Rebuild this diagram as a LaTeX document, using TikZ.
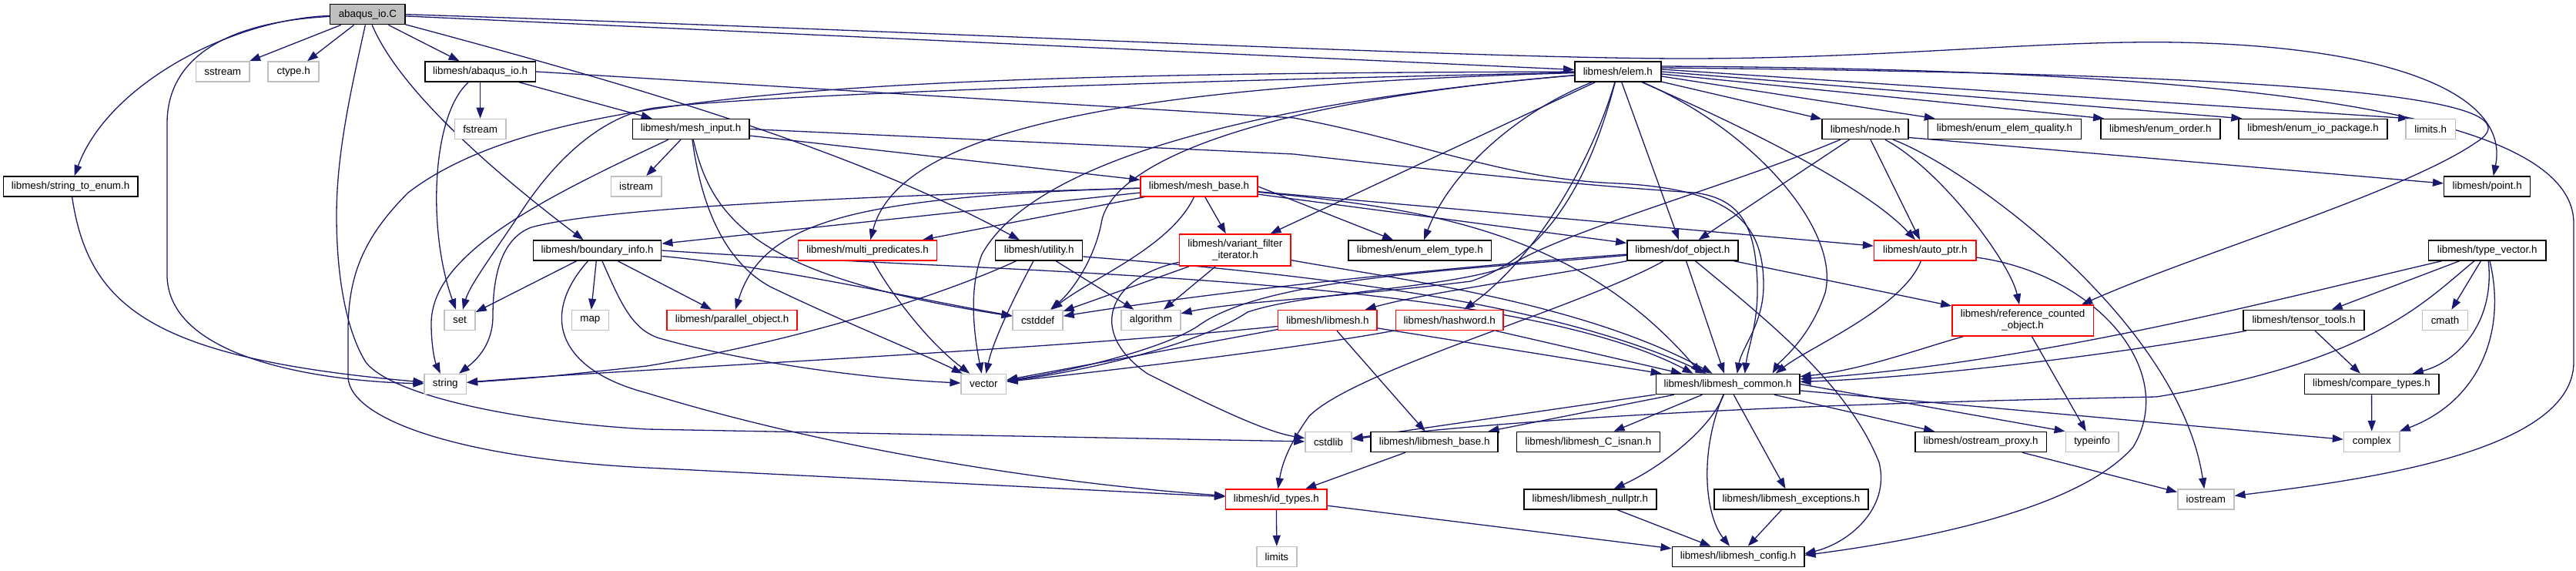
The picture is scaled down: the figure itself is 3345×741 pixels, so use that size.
\documentclass[tikz,border=0pt]{standalone}
\usepackage{fontspec}
\setmainfont{Liberation Sans}
\usetikzlibrary{arrows.meta}
\definecolor{edgec}{HTML}{191970}
\definecolor{gbox}{HTML}{BFBFBF}
\definecolor{rbox}{HTML}{FF0000}
\definecolor{cfill}{HTML}{BFBFBF}
\pgfdeclarelayer{bg}
\pgfsetlayers{bg,main}
\begin{document}
\begin{tikzpicture}[x=1pt,y=-1pt,
  bx/.style={draw, line width=1.5pt, fill=white, inner sep=0pt, minimum height=26pt, font=\fontsize{13.4}{15}\selectfont, text=black},
  nb/.style={bx, draw=black},
  nr/.style={bx, draw=rbox},
  ng/.style={bx, draw=gbox},
  edg/.style={draw=edgec, line width=1.3pt, -{Triangle[length=14pt,width=10pt]}},
]
\useasboundingbox (0,0) rectangle (3345,741);
% nodes
\node[nb, fill=cfill, minimum width=97.5pt] (C) at (477.4,18.7) {abaqus\_io.C};
\node[ng, minimum width=69.6pt] (sstream) at (289.3,93) {sstream};
\node[ng, minimum width=66pt] (ctype) at (381.2,93) {ctype.h};
\node[nb, minimum width=143.6pt] (abaqush) at (623.6,93) {libmesh/abaqus\_io.h};
\node[nb, minimum width=112pt] (elem) at (2100.8,93) {libmesh/elem.h};
\node[ng, minimum width=66.4pt] (fstream) at (623.6,167.5) {fstream};
\node[nb, minimum width=151.6pt] (meshinput) at (897.1,167.5) {libmesh/mesh\_input.h};
\node[nb, minimum width=112pt] (nodeh) at (2422.2,167.5) {libmesh/node.h};
\node[nb, minimum width=199pt] (equality) at (2603,167.5) {libmesh/enum\_elem\_quality.h};
\node[nb, minimum width=155pt] (eorder) at (2805.3,167.5) {libmesh/enum\_order.h};
\node[nb, minimum width=193pt] (eio) at (3003.6,167.5) {libmesh/enum\_io\_package.h};
\node[ng, minimum width=64.5pt] (limitsh) at (3156.2,167.5) {limits.h};
\node[nb, minimum width=174.6pt] (ste) at (91.6,242) {libmesh/string\_to\_enum.h};
\node[ng, minimum width=65.4pt] (istream) at (826.1,242) {istream};
\node[nr, minimum width=151.7pt] (meshbase) at (1557,242) {libmesh/mesh\_base.h};
\node[nb, minimum width=112pt] (pointh) at (3229.7,242) {libmesh/point.h};
\node[nb, minimum width=166pt] (binfo) at (775.7,325) {libmesh/boundary\_info.h};
\node[nr, minimum width=180pt] (multipred) at (1126.6,325) {libmesh/multi\_predicates.h};
\node[nb, minimum width=113pt] (utility) at (1349.2,325) {libmesh/utility.h};
\node[nr, minimum width=144.6pt, minimum height=41pt, align=center] (vfi) at (1603.9,324.5) {libmesh/variant\_filter\\\_iterator.h};
\node[nb, minimum width=185.4pt] (eetype) at (1843.9,325) {libmesh/enum\_elem\_type.h};
\node[nb, minimum width=144.2pt] (dof) at (2184.9,325) {libmesh/dof\_object.h};
\node[nr, minimum width=132.3pt] (autoptr) at (2499.8,325) {libmesh/auto\_ptr.h};
\node[nb, minimum width=152.3pt] (typevec) at (3229.7,325) {libmesh/type\_vector.h};
\node[ng, minimum width=40pt] (seth) at (597,415.5) {set};
\node[ng, minimum width=47.7pt] (maph) at (766.4,415.5) {map};
\node[nr, minimum width=168.8pt] (parobj) at (950.6,415.5) {libmesh/parallel\_object.h};
\node[ng, minimum width=64.8pt] (cstddef) at (1347.6,415.5) {cstddef};
\node[ng, minimum width=76.7pt] (algorithm) at (1494.4,415.5) {algorithm};
\node[nr, minimum width=128.6pt] (libmesh) at (1723.9,415.5) {libmesh/libmesh.h};
\node[nr, minimum width=139.8pt] (hashword) at (1882.2,415.5) {libmesh/hashword.h};
\node[nr, minimum width=183.5pt, minimum height=40pt, align=center] (refcount) at (2626.6,416) {libmesh/reference\_counted\\\_object.h};
\node[nb, minimum width=157pt] (tensor) at (2991.5,415.5) {libmesh/tensor\_tools.h};
\node[ng, minimum width=58.7pt] (cmath) at (3175,415.5) {cmath};
\node[ng, minimum width=54.2pt] (strg) at (578.3,498.5) {string};
\node[ng, minimum width=58.4pt] (vect) at (1277.4,498.5) {vector};
\node[nb, minimum width=186.4pt] (common) at (2243.6,498.5) {libmesh/libmesh\_common.h};
\node[nb, minimum width=174.5pt] (compare) at (3079.5,498.5) {libmesh/compare\_types.h};
\node[ng, minimum width=60pt] (cstdlib) at (1725,573.5) {cstdlib};
\node[nb, minimum width=165pt] (baseh) at (1862.7,573.5) {libmesh/libmesh\_base.h};
\node[nb, minimum width=185.9pt] (isnan) at (2062.3,573.5) {libmesh/libmesh\_C\_isnan.h};
\node[nb, minimum width=170.7pt] (ostream) at (2572.2,573.5) {libmesh/ostream\_proxy.h};
\node[ng, minimum width=68.8pt] (typeinfo) at (2716.7,573.5) {typeinfo};
\node[ng, minimum width=72.5pt] (cplx) at (3079.8,573.5) {complex};
\node[nr, minimum width=131.3pt] (idtypes) at (1657.3,648) {libmesh/id\_types.h};
\node[nb, minimum width=172pt] (nullptr) at (2064.9,648) {libmesh/libmesh\_nullptr.h};
\node[nb, minimum width=200.3pt] (exceptions) at (2326,648) {libmesh/libmesh\_exceptions.h};
\node[ng, minimum width=72.9pt] (iostream) at (2864.3,648) {iostream};
\node[ng, minimum width=52.2pt] (lims) at (1657.9,722.5) {limits};
\node[nb, minimum width=171.5pt] (config) at (2257,722.5) {libmesh/libmesh\_config.h};

\begin{pgfonlayer}{bg}
% abaqus_io.C
\draw[edg] (C) -- (sstream);
\draw[edg] (C) -- (ctype);
\draw[edg] (C) -- (abaqush);
\draw[edg] (C) .. controls (300,25) and (140,110) .. (ste);
\draw[edg] (C) .. controls (270,30) and (217,90) .. (217,160) -- (217,360) .. controls (222,470) and (430,495) .. (strg);
\draw[edg] (C) .. controls (455,120) and (437,200) .. (437,280) .. controls (437,360) and (450,430) .. (475,470) .. controls (510,515) and (680,548) .. (840,557) -- (cstdlib);
\draw[edg] (C) -- (elem);
\draw[edg] (C.east) .. controls (1200,40) and (1900,76) .. (2189,76) .. controls (2450,76) and (2650,52) .. (2827,55) .. controls (3100,60) and (3260,120) .. ([xshift=8pt]pointh.north);
\draw[edg] (C) .. controls (520,120) and (650,230) .. (binfo);
\draw[edg] (C) .. controls (800,105) and (1100,190) .. (utility);
% abaqus_io.h
\draw[edg] (abaqush) -- (fstream);
\draw[edg] (abaqush) .. controls (560,150) and (555,300) .. (seth);
\draw[edg] (abaqush) -- (meshinput);
\draw[edg] (abaqush.east) -- (1680,153) .. controls (1850,185) and (1950,232) .. (2100,238) .. controls (2250,245) and (2290,290) .. (2290,370) .. controls (2290,420) and (2262,450) .. ([xshift=12pt]common.north);
% mesh_input.h
\draw[edg] (meshinput) -- (istream);
\draw[edg] (meshinput) .. controls (700,260) and (560,330) .. (560,420) .. controls (560,450) and (565,470) .. (strg);
\draw[edg] (meshinput) .. controls (915,300) and (960,350) .. (1000,372) .. controls (1100,420) and (1200,460) .. (vect);
\draw[edg] (meshinput) .. controls (925,290) and (990,360) .. (cstddef);
\draw[edg] (meshinput) -- (meshbase);
\draw[edg] (meshinput.east) -- (1680,200) .. controls (1900,225) and (2050,240) .. (2200,250) .. controls (2265,258) and (2280,300) .. (2282,370) .. controls (2283,420) and (2270,450) .. ([xshift=22pt]common.north);
% string_to_enum.h
\draw[edg] (ste) .. controls (115,400) and (200,465) .. (strg);
% elem.h
\draw[edg] (elem) -- (nodeh);
\draw[edg] ([yshift=-6pt]elem.east) -- ([xshift=10pt]equality.north west);
\draw[edg] ([yshift=-3pt]elem.east) -- ([xshift=5pt]eorder.north west);
\draw[edg] (elem.east) -- ([xshift=5pt]eio.north west);
\draw[edg] ([yshift=3pt]elem.east) -- ([xshift=5pt]limitsh.north west);
\draw[edg] ([yshift=5pt]elem.east) .. controls (2900,95) and (3320,120) .. (3215,185) .. controls (3120,250) and (2850,330) .. ([xshift=-16pt]refcount.north east);
\draw[edg] ([yshift=7pt]elem.east) .. controls (2950,90) and (3342,150) .. (3342,290) -- (3342,470) .. controls (3342,590) and (3050,625) .. (iostream);
\draw[edg] (elem) .. controls (1960,150) and (1880,230) .. (eetype);
\draw[edg] (elem) -- (dof);
\draw[edg] (elem) .. controls (2300,180) and (2430,250) .. (autoptr);
\draw[edg] (elem) .. controls (2070,200) and (2000,330) .. (hashword);
\draw[edg] (elem) .. controls (1500,110) and (1170,160) .. (multipred);
\draw[edg] (elem) -- (vfi);
\draw[edg] (elem) .. controls (1600,135) and (1440,220) .. (1430,290) .. controls (1420,340) and (1390,380) .. (cstddef);
\draw[edg] (elem) .. controls (1550,140) and (1330,230) .. (1275,330) .. controls (1260,370) and (1262,420) .. (vect);
\draw[edg] (elem) .. controls (2060,250) and (2000,335) .. (1910,365) .. controls (1750,385) and (1600,392) .. (algorithm);
\draw[edg] (elem) .. controls (1300,110) and (950,128) .. (850,140) .. controls (780,150) and (720,210) .. (680,270) .. controls (640,330) and (610,370) .. (seth);
\draw[edg] (elem) .. controls (1100,95) and (700,120) .. (530,250) .. controls (470,310) and (452,360) .. (452,430) -- (452,490) .. controls (455,545) and (600,595) .. (840,607) -- (idtypes);
\draw[edg] (elem) .. controls (2280,170) and (2390,300) .. (2370,380) .. controls (2350,440) and (2310,470) .. ([xshift=58pt]common.north);
% node.h
\draw[edg] ([yshift=-11pt]nodeh.east) -- ([yshift=4pt]pointh.west);
\draw[edg] (nodeh) -- (dof);
\draw[edg] (nodeh) .. controls (2520,220) and (2610,340) .. (refcount);
\draw[edg] (nodeh) -- (autoptr);
\draw[edg] (nodeh) .. controls (2560,220) and (2830,420) .. (iostream);
\draw[edg] (nodeh) .. controls (2250,240) and (2030,300) .. (1960,345) .. controls (1880,375) and (1700,378) .. (1620,405) .. controls (1560,445) and (1420,480) .. (vect);
% mesh_base.h
\draw[edg] (meshbase) .. controls (1850,270) and (2050,300) .. ([xshift=-35pt]common.north);
\draw[edg] (meshbase) -- (autoptr);
\draw[edg] (meshbase) -- (binfo);
\draw[edg] (meshbase) -- (dof);
\draw[edg] (meshbase.east) -- (eetype);
\draw[edg] (meshbase) -- (multipred);
\draw[edg] (meshbase) -- (vfi);
\draw[edg] (meshbase) .. controls (1100,255) and (990,290) .. (parobj);
\draw[edg] (meshbase) .. controls (1520,320) and (1420,360) .. (cstddef);
\draw[edg] (meshbase) .. controls (1100,255) and (780,270) .. (690,295) .. controls (650,310) and (640,360) .. (640,410) .. controls (640,450) and (615,470) .. (strg);
% boundary_info.h
\draw[edg] (binfo) -- (seth);
\draw[edg] (binfo) -- (maph);
\draw[edg] (binfo) -- (parobj);
\draw[edg] (binfo) .. controls (700,410) and (725,480) .. (840,510) .. controls (1100,590) and (1400,630) .. (idtypes);
\draw[edg] (binfo) .. controls (805,390) and (820,430) .. (860,440) .. controls (950,465) and (1100,490) .. (vect);
\draw[edg] (binfo) .. controls (1000,345) and (1200,390) .. (cstddef);
\draw[edg] (binfo.east) .. controls (1300,355) and (1950,355) .. ([xshift=-45pt]common.north);
% multi_predicates.h
\draw[edg] (multipred) .. controls (1150,370) and (1200,440) .. (vect);
% utility.h
\draw[edg] (utility) .. controls (1230,380) and (1050,440) .. (840,475) .. controls (700,490) .. (strg);
\draw[edg] (utility) .. controls (1320,380) and (1290,440) .. (vect);
\draw[edg] (utility) -- (algorithm);
\draw[edg] ([yshift=-8pt]utility.east) .. controls (1650,352) and (2000,385) .. ([xshift=-28pt]common.north);
% variant_filter_iterator.h
\draw[edg] (vfi) -- (cstddef);
\draw[edg] (vfi) -- (algorithm);
\draw[edg] (vfi) .. controls (1440,360) and (1410,430) .. (1490,485) .. controls (1560,520) and (1640,560) .. (cstdlib);
\draw[edg] (vfi) .. controls (1800,360) and (2050,390) .. ([xshift=-20pt]common.north);
% dof_object.h
\draw[edg] (dof) -- (common);
\draw[edg] (dof) .. controls (2000,360) and (1850,380) .. (libmesh);
\draw[edg] (dof) -- (refcount);
\draw[edg] (dof) .. controls (2050,400) and (1760,480) .. (1700,540) .. controls (1675,575) and (1665,600) .. (idtypes);
\draw[edg] (dof) .. controls (1900,345) and (1600,375) .. (cstddef);
\draw[edg] (dof) .. controls (1900,350) and (1650,360) .. (1560,420) .. controls (1520,450) and (1400,480) .. (vect);
\draw[edg] (dof) .. controls (2300,420) and (2400,500) .. (2440,600) .. controls (2455,660) and (2400,705) .. ([yshift=4pt]config.east);
% auto_ptr.h
\draw[edg] (autoptr) .. controls (2470,400) and (2350,450) .. ([xshift=62pt]common.north);
\draw[edg] (autoptr) .. controls (2720,355) and (2830,480) .. (2770,580) .. controls (2700,660) and (2500,700) .. ([yshift=2pt]config.east);
% type_vector.h
\draw[edg] (typevec) .. controls (2950,390) and (2650,470) .. (common);
\draw[edg] (typevec) -- (tensor);
\draw[edg] (typevec) .. controls (3150,390) and (3080,470) .. (2800,515) .. controls (2450,522) and (2050,535) .. (cstdlib);
\draw[edg] (typevec) -- (cmath);
\draw[edg] (typevec) .. controls (3240,420) and (3190,470) .. (compare);
\draw[edg] (typevec) .. controls (3255,430) and (3220,520) .. (cplx);
% tensor_tools.h, compare_types.h
\draw[edg] (tensor) .. controls (2750,460) and (2500,490) .. (common);
\draw[edg] (tensor) -- (compare);
\draw[edg] (compare) -- (cplx);
% reference_counted_object.h
\draw[edg] (refcount) .. controls (2500,450) and (2420,480) .. (common);
\draw[edg] (refcount) -- (typeinfo);
% hashword.h
\draw[edg] (hashword) -- (common);
\draw[edg] (hashword) .. controls (1700,450) and (1450,480) .. (vect);
% libmesh.h
\draw[edg] ([yshift=-8pt]libmesh.west) .. controls (1350,455) and (800,480) .. (strg);
\draw[edg] (libmesh) -- (vect);
\draw[edg] (libmesh) -- (baseh);
\draw[edg] (libmesh) -- (common);
% libmesh_common.h
\draw[edg] (common) -- (cstdlib);
\draw[edg] (common) -- (baseh);
\draw[edg] (common) -- (isnan);
\draw[edg] (common) .. controls (2220,560) and (2150,610) .. (nullptr);
\draw[edg] (common) .. controls (2205,590) and (2215,670) .. (config);
\draw[edg] (common) -- (exceptions);
\draw[edg] (common) -- (ostream);
\draw[edg] (common.east) -- (typeinfo.north west);
\draw[edg] (common) -- (cplx);
% remaining
\draw[edg] (baseh) -- (idtypes);
\draw[edg] (idtypes) -- (lims);
\draw[edg] (idtypes) -- (config);
\draw[edg] (nullptr) -- (config);
\draw[edg] (exceptions) -- (config);
\draw[edg] (ostream) -- (iostream);
\end{pgfonlayer}
\end{tikzpicture}
\end{document}
